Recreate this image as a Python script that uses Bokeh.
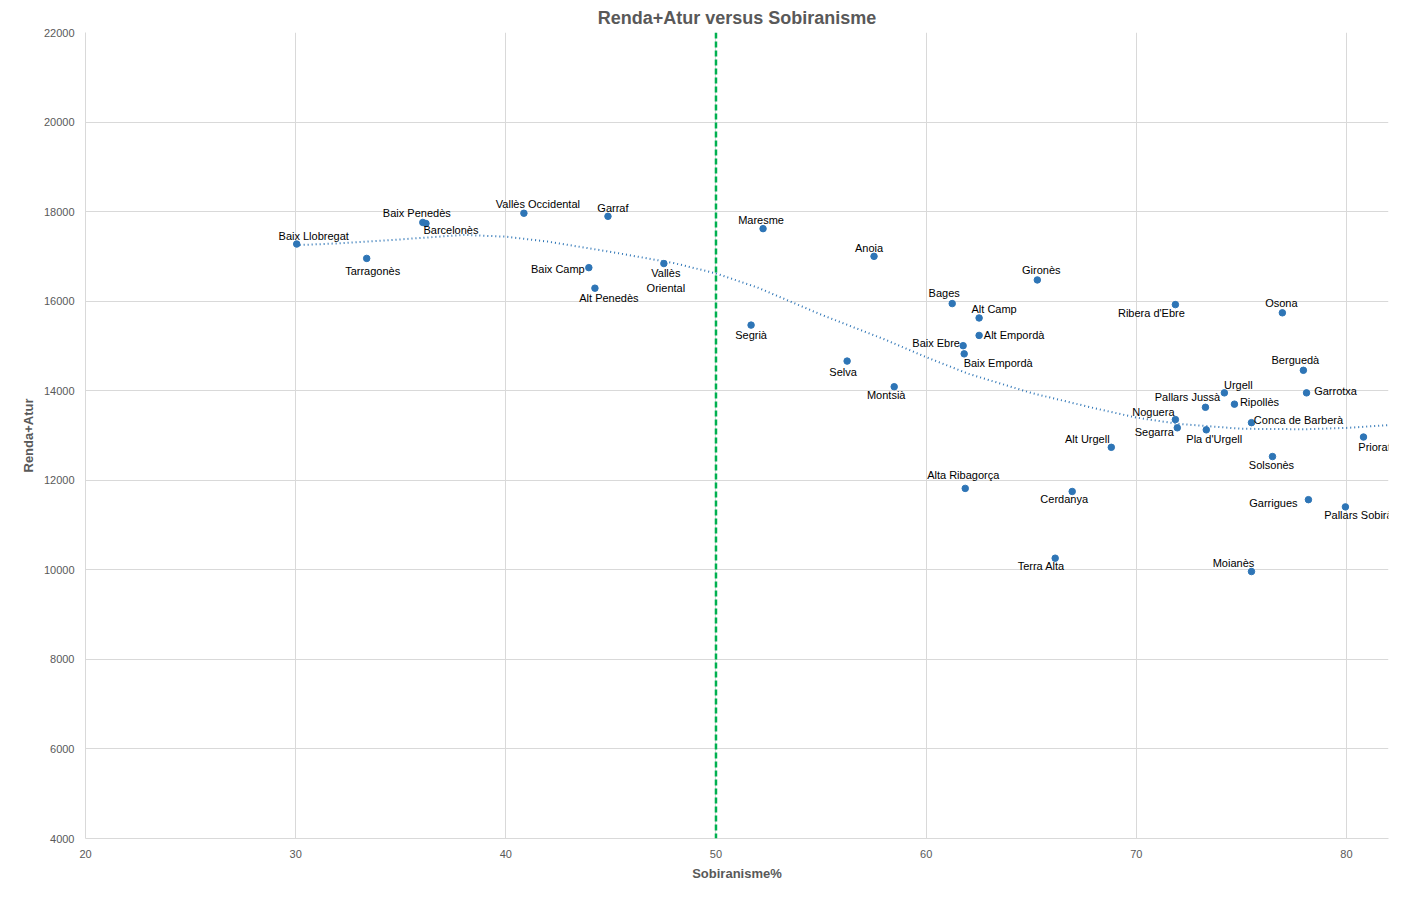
from bokeh.plotting import figure
from bokeh.models import ColumnDataSource, Span, FixedTicker, Range1d
from bokeh.embed import file_html
from bokeh.resources import INLINE
from bokeh.core.properties import value

names = ["Baix Llobregat","Tarragonès","Baix Penedès","Barcelonès","Vallès Occidental","Garraf","Baix Camp",
 "Alt Penedès","Vallès\nOriental","Maresme","Segrià","Selva","Anoia","Montsià","Bages","Alt Camp","Alt Empordà",
 "Baix Ebre","Baix Empordà","Gironès","Alta Ribagorça","Cerdanya","Terra Alta","Alt Urgell","Ribera d'Ebre",
 "Noguera","Segarra","Pallars Jussà","Pla d'Urgell","Urgell","Ripollès","Conca de Barberà","Moianès","Solsonès",
 "Osona","Berguedà","Garrotxa","Garrigues","Pallars Sobirà","Priorat"]
sobiranisme = [30.05,33.38,36.05,36.2,40.86,44.86,43.95,44.24,47.52,52.24,51.67,56.24,57.52,58.48,61.24,62.52,62.52,
 61.76,61.81,65.29,61.86,66.95,66.14,68.81,71.86,71.86,71.95,73.29,73.33,74.19,74.67,75.48,75.48,76.48,
 76.95,77.95,78.1,78.19,79.95,80.81]
renda_atur = [17276,16955,17758,17735,17964,17895,16749,16290,16840,17620,15465,14662,17001,14089,15946,15625,15235,
 15006,14823,16474,11819,11750,10260,12736,15923,13355,13172,13630,13126,13952,13700,13287,9962,12530,
 15740,14456,13952,11567,11406,12966]
trend_x = [30,32,35,38,40,42,45,48,50,52,55,58,60,62,65,68,70,72,75,78,80,82]
trend_y = [17250,17290,17380,17480,17440,17330,17100,16850,16620,16300,15700,15150,14750,14380,13950,13610,13400,13260,13150,13140,13170,13230]

# label offsets (layout, screen px; positive dy = down)
dx = [17,6,-6,25,14,5,-31,14,2,-2,0,-4,-5,-8,-8,15,35,-27,34,4,-2,-8,-14,-24,-24,-22,-23,-18,8,14,25,47,-18,-1,-1,-8,29,-35,13,11]
dy = [-8,13,-9,7,-9,-8,1,10,17,-9,10,11,-8,8,-11,-9,0,-3,9,-10,-13,8,8,-8,8,-8,4,-10,9,-8,-2,-3,-9,8,-10,-10,-2,3,8,10]

src = ColumnDataSource(dict(x=sobiranisme, y=renda_atur, name=names, dx=dx, dy=dy))

FONT = "Liberation Sans"
GREY = "#595959"
p = figure(width=1394, height=883, output_backend="svg", toolbar_location=None,
           x_range=Range1d(20, 82), y_range=Range1d(4000, 22000),
           min_border_left=85, min_border_right=6, min_border_bottom=45, min_border_top=30,
           title="Renda+Atur versus Sobiranisme")
p.title.align = "center"
p.title.text_font = FONT
p.title.text_font_size = "18px"
p.title.text_color = GREY
p.title.text_font_style = "bold"
p.outline_line_color = None
p.xaxis.ticker = FixedTicker(ticks=[20,30,40,50,60,70,80])
p.yaxis.ticker = FixedTicker(ticks=list(range(4000, 22001, 2000)))
p.xaxis.axis_label = "Sobiranisme%"
p.yaxis.axis_label = "Renda+Atur"
for ax in (p.xaxis, p.yaxis):
    ax.axis_label_text_font = FONT
    ax.axis_label_text_font_style = "bold"
    ax.axis_label_text_font_size = "13px"
    ax.axis_label_text_color = GREY
    ax.major_label_text_font = FONT
    ax.major_label_text_font_size = "11px"
    ax.major_label_text_color = GREY
    ax.major_tick_line_color = None
    ax.minor_tick_line_color = None
    ax.axis_line_color = "#d9d9d9"
p.xgrid.grid_line_color = "#d9d9d9"
p.ygrid.grid_line_color = "#d9d9d9"

p.line(trend_x, trend_y, line_color="#2e75b6", line_width=2, line_dash="1 3")
p.add_layout(Span(location=50, dimension="height", line_color="#00b050", line_width=2.5, line_dash="6 3"))
p.scatter("x", "y", source=src, size=6.5, color="#2e75b6")
p.text("x", "y", text="name", source=src, x_offset="dx", y_offset="dy",
       text_align="center", text_baseline="middle", text_font=value(FONT),
       text_font_size="11px", text_color="#000000", text_line_height=1.3)

open("out.html", "w").write(file_html(p, INLINE))
